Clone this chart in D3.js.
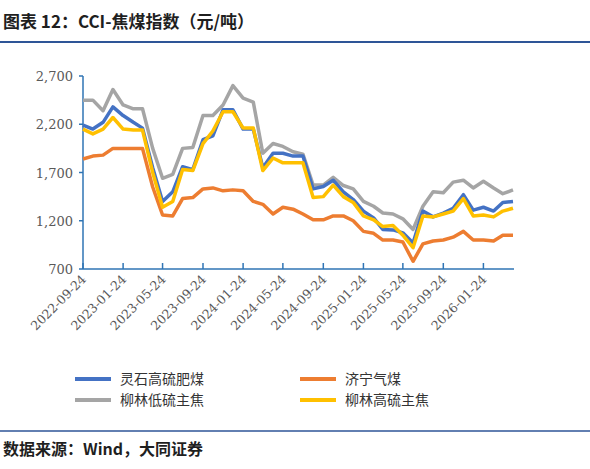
<!DOCTYPE html>
<html><head><meta charset="utf-8">
<script src="https://cdn.jsdelivr.net/npm/d3@7"></script>
<style>
body{margin:0;background:#fff;font-family:"Noto Sans CJK SC",sans-serif;}
</style></head>
<body><svg id="chart" width="590" height="469"></svg>
<script>
// monthly samples from 2022-09-24
let startDate = new Date(2022, 8, 24);
let dates = d3.range(44).map(k => d3.timeMonth.offset(startDate, k));
let tickLabels = ["2022-09-24","2023-01-24","2023-05-24","2023-09-24","2024-01-24","2024-05-24","2024-09-24","2025-01-24","2025-05-24","2025-09-24","2026-01-24"];

let lingshi = [2190,2150,2220,2380,2290,2220,2160,1750,1400,1500,1760,1730,2040,2080,2350,2350,2150,2150,1750,1900,1900,1870,
  1870,1530,1555,1620,1500,1420,1300,1230,1110,1105,1075,970,1300,1240,1280,1330,1470,1310,1340,1300,1390,1400];
let jining = [1840,1870,1880,1950,1950,1950,1950,1550,1260,1250,1430,1440,1530,1540,1510,1520,1510,1400,1370,1270,1340,1320,
  1270,1210,1210,1250,1250,1200,1090,1070,1000,1000,980,780,960,990,1000,1030,1090,1000,1000,990,1050,1050];
let liulinLow = [2450,2450,2340,2560,2400,2360,2360,1950,1640,1680,1950,1960,2290,2290,2400,2600,2470,2430,1900,2000,1970,1915,
  1890,1570,1570,1650,1565,1530,1400,1350,1280,1270,1220,1110,1350,1500,1490,1600,1620,1540,1610,1540,1480,1520];
let liulinHigh = [2150,2100,2150,2270,2150,2140,2140,1700,1340,1400,1730,1720,2000,2130,2330,2330,2160,2160,1720,1850,1800,1800,
  1800,1440,1450,1570,1450,1390,1250,1210,1140,1150,1050,920,1250,1240,1270,1300,1430,1250,1260,1240,1300,1330];

let series = [
  {name:"灵石高硫肥煤", values:lingshi, color:"#4472C4"},
  {name:"济宁气煤", values:jining, color:"#ED7D31"},
  {name:"柳林低硫主焦", values:liulinLow, color:"#A5A5A5"},
  {name:"柳林高硫主焦", values:liulinHigh, color:"#FFC000"}
];

let svg = d3.select("#chart");

svg.append("text").attr("x", 3).attr("y", 28)
  .style("font-size", "17px").style("font-weight", "bold").attr("fill", "#1f1f1f")
  .text("图表 12：CCI-焦煤指数（元/吨）");
svg.append("line").attr("x1", 0).attr("x2", 590).attr("y1", 42).attr("y2", 42)
  .attr("stroke", "#2E5597").attr("stroke-width", 2);

let x = d3.scaleTime().domain([startDate, dates[43]]).range([83, 513]);
let y = d3.scaleLinear().domain([700, 2700]).range([269, 76]);

let yTicks = [700, 1200, 1700, 2200, 2700];
let g = svg.append("g");
g.append("line").attr("x1", 83).attr("x2", 83).attr("y1", 76).attr("y2", 269)
  .attr("stroke", "#2F75B5").attr("stroke-width", 1.5);
g.selectAll(".yt").data(yTicks).enter().append("line")
  .attr("x1", 79).attr("x2", 83).attr("y1", d => y(d)).attr("y2", d => y(d))
  .attr("stroke", "#2F75B5").attr("stroke-width", 1.5);
g.selectAll(".yl").data(yTicks).enter().append("text")
  .attr("x", 73).attr("y", d => y(d) + 5).attr("text-anchor", "end")
  .style("font-family", "'DejaVu Serif',serif").style("font-size", "13px").attr("fill", "#595959")
  .text(d => d3.format(",")(d));

let xTickDates = tickLabels.map(s => d3.timeParse("%Y-%m-%d")(s));
g.append("line").attr("x1", 83).attr("x2", 514).attr("y1", 269).attr("y2", 269)
  .attr("stroke", "#2F75B5").attr("stroke-width", 1.5);
g.selectAll(".xt").data(xTickDates).enter().append("line")
  .attr("x1", d => x(d)).attr("x2", d => x(d)).attr("y1", 263).attr("y2", 269)
  .attr("stroke", "#2F75B5").attr("stroke-width", 1.5);
g.selectAll(".xl").data(tickLabels).enter().append("text")
  .attr("transform", (d, i) => "translate(" + (x(xTickDates[i]) + 4) + ",280) rotate(-45)")
  .attr("text-anchor", "end")
  .style("font-family", "'DejaVu Serif',serif").style("font-size", "12.5px").attr("fill", "#595959")
  .text(d => d);

let line = d3.line().x((d, i) => x(dates[i])).y(d => y(d));
[2, 1, 0, 3].forEach(i => {
  svg.append("path").datum(series[i].values).attr("d", line)
    .attr("fill", "none").attr("stroke", series[i].color).attr("stroke-width", 3.5)
    .attr("stroke-linejoin", "round");
});

// legend
let legend = svg.selectAll(".legend").data(series).enter().append("g")
  .attr("transform", (d, i) => "translate(" + (i % 2 ? 300 : 75) + "," + (i < 2 ? 379 : 400) + ")");
legend.append("line").attr("x1", 0).attr("x2", 36).attr("stroke", d => d.color).attr("stroke-width", 4);
legend.append("text").attr("x", 45).attr("y", 5).style("font-size", "14px").attr("fill", "#333")
  .text(d => d.name);

svg.append("line").attr("x1", 0).attr("x2", 590).attr("y1", 431).attr("y2", 431)
  .attr("stroke", "#2E5597").attr("stroke-width", 1.5);
svg.append("text").attr("x", 3).attr("y", 455)
  .style("font-size", "16px").style("font-weight", "bold").attr("fill", "#1f1f1f")
  .text("数据来源：Wind，大同证券");
</script></body></html>
